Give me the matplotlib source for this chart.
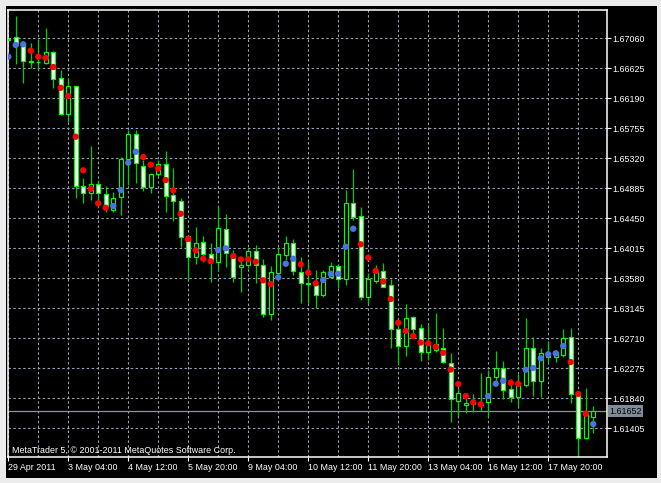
import matplotlib
matplotlib.use('Agg')
import matplotlib.pyplot as plt
from matplotlib.patches import Rectangle
import matplotlib.transforms as mtransforms

plt.rcParams['font.family'] = ['Liberation Sans', 'DejaVu Sans']

# H4 bars, first one (index -1) is cut by the left edge
bar_idx = list(range(-1, 78))
opens = [1.67035, 1.67074, 1.66963, 1.66723, 1.66723, 1.66706, 1.66857, 1.66480, 1.65958, 1.66368,
         1.64918, 1.64812, 1.64943, 1.64798, 1.64570, 1.64754, 1.65305, 1.65672, 1.65208, 1.64908,
         1.65088, 1.65233, 1.64783, 1.64700, 1.64193, 1.63893, 1.64102, 1.63928, 1.63820, 1.64290,
         1.63928, 1.63751, 1.63768, 1.63976, 1.63768, 1.63062, 1.63661, 1.63918, 1.64087, 1.63675,
         1.63512, 1.63483, 1.63338, 1.63603, 1.63762, 1.63570, 1.64676, 1.64483, 1.63304, 1.63545,
         1.63686, 1.63483, 1.62840, 1.62598, 1.63014, 1.62855, 1.62515, 1.62540, 1.62565, 1.62356,
         1.61805, 1.61743, 1.61757, 1.61743, 1.61790, 1.62144, 1.62275, 1.61970, 1.61854, 1.62033,
         1.62573, 1.62090, 1.62438, 1.62443, 1.62467, 1.62724, 1.61888, 1.61260, 1.61564]
highs = [1.67064, 1.67383, 1.66977, 1.66987, 1.67035, 1.67216, 1.66876, 1.66600, 1.66480, 1.66375,
         1.65030, 1.65498, 1.65005, 1.64922, 1.64835, 1.65338, 1.65730, 1.65730, 1.65295, 1.65106,
         1.65295, 1.65425, 1.65175, 1.64740, 1.64207, 1.64319, 1.64197, 1.64087, 1.64628, 1.64512,
         1.63990, 1.63870, 1.64015, 1.64063, 1.63860, 1.63758, 1.64029, 1.64193, 1.64149, 1.63884,
         1.63831, 1.63700, 1.63700, 1.63820, 1.63787, 1.64860, 1.65160, 1.64609, 1.63661, 1.63773,
         1.63797, 1.63565, 1.62917, 1.63207, 1.63033, 1.62917, 1.62903, 1.63072, 1.62855, 1.62492,
         1.61989, 1.61902, 1.61898, 1.62211, 1.62250, 1.62530, 1.62381, 1.62115, 1.62192, 1.63000,
         1.62733, 1.62565, 1.62675, 1.62540, 1.62840, 1.62863, 1.61902, 1.61993, 1.61728]
lows = [1.67013, 1.66694, 1.66419, 1.66625, 1.66600, 1.66694, 1.66343, 1.65955, 1.65842, 1.64740,
        1.64667, 1.64715, 1.64618, 1.64545, 1.64541, 1.64497, 1.64932, 1.64966, 1.64845, 1.64812,
        1.65063, 1.64545, 1.64415, 1.64038, 1.63555, 1.63783, 1.63820, 1.63530, 1.63700, 1.63748,
        1.63530, 1.63385, 1.63729, 1.63507, 1.63023, 1.62975, 1.63628, 1.63845, 1.63628, 1.63226,
        1.63217, 1.63145, 1.63304, 1.63580, 1.63435, 1.63483, 1.64425, 1.63265, 1.63207, 1.63507,
        1.63454, 1.62565, 1.62323, 1.62453, 1.62758, 1.62385, 1.62395, 1.62511, 1.62352, 1.61496,
        1.61583, 1.61631, 1.61645, 1.61656, 1.61573, 1.62062, 1.61825, 1.61790, 1.61728, 1.62008,
        1.61873, 1.61854, 1.62370, 1.62370, 1.62434, 1.61767, 1.61003, 1.61245, 1.61341]
closes = [1.67050, 1.66963, 1.66731, 1.66731, 1.66716, 1.66857, 1.66465, 1.65958, 1.66368, 1.64918,
          1.64812, 1.64951, 1.64812, 1.64618, 1.64748, 1.65305, 1.65672, 1.65256, 1.64908, 1.65092,
          1.65233, 1.64777, 1.64700, 1.64183, 1.63893, 1.64096, 1.63928, 1.63845, 1.64305, 1.63942,
          1.63603, 1.63773, 1.63980, 1.63768, 1.63062, 1.63667, 1.63928, 1.64087, 1.63686, 1.63516,
          1.63497, 1.63338, 1.63675, 1.63762, 1.63570, 1.64667, 1.64473, 1.63313, 1.63570, 1.63686,
          1.63458, 1.62840, 1.62598, 1.63000, 1.62840, 1.62515, 1.62646, 1.62627, 1.62370, 1.61825,
          1.61921, 1.61772, 1.61772, 1.61757, 1.62144, 1.62275, 1.61960, 1.61854, 1.62057, 1.62573,
          1.62090, 1.62492, 1.62467, 1.62515, 1.62710, 1.61898, 1.61260, 1.61622, 1.61652]
# indicator dots and their colour (r = red, b = blue)
dots = [1.66793, 1.66963, 1.66973, 1.66880, 1.66793, 1.66778, 1.66644, 1.66343, 1.66223, 1.65633,
        1.65146, 1.64875, 1.64667, 1.64603, 1.64628, 1.64860, 1.65256, 1.65415, 1.65338, 1.65227,
        1.65175, 1.65005, 1.64856, 1.64516, 1.64149, 1.63986, 1.63864, 1.63826, 1.63990, 1.64015,
        1.63903, 1.63855, 1.63855, 1.63820, 1.63551, 1.63497, 1.63594, 1.63791, 1.63864, 1.63783,
        1.63661, 1.63507, 1.63555, 1.63646, 1.63646, 1.64038, 1.64299, 1.64073, 1.63878, 1.63686,
        1.63533, 1.63280, 1.62936, 1.62816, 1.62743, 1.62649, 1.62637, 1.62584, 1.62501, 1.62257,
        1.62047, 1.61873, 1.61782, 1.61753, 1.61873, 1.62051, 1.62095, 1.62066, 1.62051, 1.62254,
        1.62279, 1.62420, 1.62478, 1.62492, 1.62598, 1.62366, 1.61902, 1.61616, 1.61467]
dot_col = ("bbb" + "rrrrrrrrrrr" + "bbbb" + "rrrrrrrrrr" + "bb" + "rrrrrr" + "bbb" + "rrr"
           + "bbbbb" + "rrrrrrrrrrrrrrrrr" + "bbb" + "rr" + "bbbbbb" + "rrr" + "b")

price_ticks = [1.61405, 1.61840, 1.62275, 1.62710, 1.63145, 1.63580, 1.64015,
               1.64450, 1.64885, 1.65320, 1.65755, 1.66190, 1.66625, 1.67060]
time_pos = [-1, 7, 15, 23, 31, 39, 47, 55, 63, 71]
time_labels = ['29 Apr 2011', '3 May 04:00', '4 May 12:00', '5 May 20:00', '9 May 04:00',
               '10 May 12:00', '11 May 20:00', '13 May 04:00', '16 May 12:00', '17 May 20:00']
bid = 1.61652

W, H = 661, 483
fig = plt.figure(figsize=(W / 100, H / 100), dpi=100, facecolor='#ECECEC')
fig.add_artist(Rectangle((6 / W, 1 - 478 / H), 651 / W, 472 / H, transform=fig.transFigure,
                         facecolor='black', edgecolor='none', zorder=0))
ax = fig.add_axes([8 / W, 1 - 457 / H, 598.5 / W, 447 / H])
ax.set_facecolor('black')
ax.set_xlim(-1.03, 78.77)
ax.set_ylim(1.609889, 1.674704)

grid_kw = dict(color='#96A3B6', lw=0.8, dashes=(2.2, 2.2), zorder=1)
for g in range(-1, 79, 4):
    ax.axvline(g, **grid_kw)
for p in price_ticks:
    ax.axhline(p, **grid_kw)

ax.axhline(bid, color='#8A949E', lw=0.9, zorder=1.5)

w = 0.5
for i, o, h, l, c in zip(bar_idx, opens, highs, lows, closes):
    ax.vlines(i, l, h, color='#00D000', lw=0.9, zorder=2)
    face = 'black' if c >= o else 'white'
    ax.add_patch(Rectangle((i - w / 2, min(o, c)), w, max(abs(c - o), 0.00002),
                           facecolor=face, edgecolor='#00FF00', lw=0.85, zorder=3))

cols = ['#FF0000' if ch == 'r' else '#4A72E0' for ch in dot_col]
ax.scatter(bar_idx, dots, s=21, c=cols, linewidths=0, zorder=4)

for s in ax.spines.values():
    s.set_color('white')
    s.set_linewidth(1.1)

ax.yaxis.tick_right()
ax.set_yticks(price_ticks)
ax.set_yticklabels(['%.5f' % p for p in price_ticks])
ax.set_xticks(time_pos)
ax.set_xticklabels(time_labels)
for lbl in ax.get_xticklabels():
    lbl.set_horizontalalignment('left')
ax.tick_params(axis='both', colors='white', labelsize=6.4, length=3, width=0.8, direction='out')
ax.tick_params(axis='y', pad=1.5)
ax.tick_params(axis='x', pad=1.5)

trans = mtransforms.blended_transform_factory(ax.transAxes, ax.transData)
ax.text(1.004, bid, '%.5f' % bid, transform=trans, fontsize=6.4, color='black',
        va='center', ha='left',
        bbox=dict(boxstyle='square,pad=0.15', facecolor='#7F8B99', edgecolor='none'))

ax.text(0.006, 0.005, 'MetaTrader 5, \u00a9 2001-2011 MetaQuotes Software Corp.',
        transform=ax.transAxes, fontsize=6.4, color='white', va='bottom', ha='left', zorder=5)

fig.savefig('out.png', dpi=100, facecolor=fig.get_facecolor())
